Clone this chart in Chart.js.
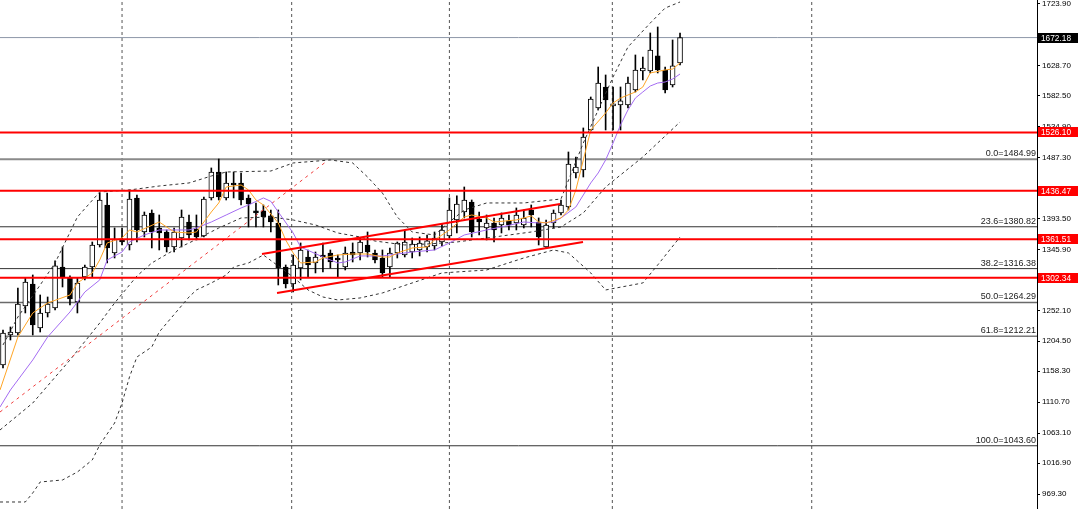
<!DOCTYPE html>
<html><head><meta charset="utf-8">
<script src="https://cdn.jsdelivr.net/npm/chart.js@4.4.0/dist/chart.umd.min.js"></script>
<style>html,body{margin:0;padding:0;background:#fff}#wrap{width:1080px;height:509px;position:relative}</style>
</head><body><div id="wrap"><canvas id="c"></canvas></div>
<script>
// ---- candle data (daily OHLC) ----
const opens = [1168.0,1214.2,1217.3,1258.9,1292.7,1225.0,1248.1,1255.8,1318.9,1302.0,1265.0,1303.5,1318.9,1352.8,1414.4,1340.5,1360.5,1352.8,1425.2,1372.8,1402.1,1379.0,1372.8,1349.7,1363.6,1388.2,1377.4,1366.7,1425.2,1465.2,1425.2,1448.3,1448.3,1425.2,1405.2,1405.2,1397.5,1386.7,1318.9,1292.7,1317.4,1334.3,1325.1,1337.4,1340.5,1332.8,1318.9,1342.0,1340.5,1352.8,1340.5,1332.8,1318.9,1340.5,1337.4,1342.0,1345.1,1349.7,1351.3,1357.4,1366.7,1391.3,1403.6,1419.0,1392.8,1379.0,1386.7,1383.6,1389.8,1386.7,1383.6,1406.7,1388.2,1349.7,1386.7,1402.1,1411.3,1463.7,1468.3,1529.9,1563.8,1596.1,1566.9,1568.4,1568.4,1591.5,1620.8,1620.8,1643.9,1622.3,1599.2,1633.1];
const highs = [1221.9,1226.5,1286.6,1302.0,1306.6,1275.8,1272.7,1328.2,1349.7,1305.1,1302.0,1322.0,1357.4,1432.9,1432.9,1379.0,1379.0,1437.5,1429.8,1403.6,1406.7,1399.0,1375.9,1379.0,1406.7,1399.0,1399.0,1426.7,1471.4,1485.2,1465.2,1465.2,1463.7,1429.8,1417.5,1414.4,1406.7,1406.7,1322.0,1337.4,1355.9,1345.1,1342.0,1355.9,1345.1,1337.4,1349.7,1355.9,1363.6,1372.8,1345.1,1345.1,1348.2,1357.4,1375.9,1363.6,1365.1,1368.2,1372.8,1385.1,1425.2,1428.3,1442.1,1422.1,1403.6,1399.0,1394.4,1402.1,1399.0,1409.8,1406.7,1414.4,1394.4,1391.3,1406.7,1422.1,1496.0,1488.3,1533.0,1580.7,1626.9,1614.6,1596.1,1596.1,1611.5,1645.4,1642.3,1679.3,1688.5,1626.9,1668.5,1679.3];
const lows = [1163.4,1206.5,1214.2,1248.1,1214.2,1218.8,1241.9,1252.7,1288.1,1260.4,1248.1,1298.9,1303.5,1349.7,1325.1,1332.8,1352.8,1345.1,1357.4,1365.1,1348.2,1345.1,1342.0,1342.0,1349.7,1360.5,1360.5,1365.1,1422.1,1422.1,1422.1,1425.2,1414.4,1380.5,1380.5,1380.5,1372.8,1291.2,1286.6,1280.4,1298.9,1303.5,1309.7,1311.2,1317.4,1303.5,1314.3,1326.6,1329.7,1334.3,1325.1,1303.5,1303.5,1332.8,1334.3,1332.8,1335.9,1342.0,1345.1,1351.3,1363.6,1371.3,1394.4,1365.1,1368.2,1360.5,1357.4,1371.3,1375.9,1375.9,1379.0,1380.5,1352.8,1348.2,1379.0,1399.0,1406.7,1456.0,1457.5,1528.4,1560.7,1529.9,1529.9,1529.9,1563.8,1588.4,1606.9,1617.7,1617.7,1586.9,1596.1,1630.0];
const closes = [1217.3,1218.8,1261.9,1295.8,1229.6,1248.1,1261.9,1320.5,1303.5,1269.6,1294.3,1318.9,1352.8,1422.1,1348.2,1362.0,1357.4,1423.6,1375.9,1399.0,1372.8,1371.3,1349.7,1372.8,1395.9,1368.2,1365.1,1423.6,1465.2,1426.7,1448.3,1445.2,1422.1,1415.9,1402.1,1395.9,1388.2,1317.4,1292.7,1322.0,1345.1,1322.0,1334.3,1334.3,1326.6,1329.7,1340.5,1337.4,1357.4,1342.0,1329.7,1309.7,1340.5,1355.9,1357.4,1354.3,1355.9,1359.0,1363.6,1375.9,1406.7,1415.9,1422.1,1372.8,1388.2,1386.7,1375.9,1394.4,1383.6,1399.0,1394.4,1399.0,1365.1,1383.6,1402.1,1414.4,1477.5,1472.9,1519.1,1577.6,1602.3,1576.1,1568.4,1574.6,1602.3,1622.3,1625.4,1653.1,1622.3,1591.5,1628.5,1672.2];

// ---- indicator lines (bar index, value) ----
const fastMaIdx = [-0.4,2,4,6,9,10,12,13,14,16,17,18,21,23,25,26,28,29,30,32,33,34,35,37,38,39,40,42,43,45,47,49,51,52,53,55,57,58,60,62,63,65,66,69,71,72,73,75,76,77,78,79,81,82,83,85,86,87,89,90,91];
const fastMaVal = [1129.5,1211.1,1248.1,1263.5,1275.8,1294.3,1309.7,1329.7,1355.9,1363.6,1375.9,1372.8,1388.2,1372.8,1371.3,1372.8,1403.6,1417.5,1442.1,1445.2,1437.5,1422.1,1414.4,1386.7,1360.5,1340.5,1325.1,1326.6,1332.8,1337.4,1338.9,1338.9,1334.3,1334.3,1340.5,1348.2,1349.7,1360.5,1375.9,1395.9,1399.0,1394.4,1388.2,1391.3,1397.5,1388.2,1386.7,1394.4,1406.7,1437.5,1483.7,1529.9,1556.1,1571.4,1579.1,1588.4,1596.1,1617.7,1622.3,1623.8,1633.1];
const slowMaIdx = [-0.4,1,4,6,9,11,13,14,16,17,19,21,23,25,26,28,30,32,33,35,36,37,39,40,43,45,46,48,51,52,55,58,60,62,65,67,70,72,74,75,77,78,79,80,81,82,83,84,85,86,87,88,89,90,91];
const slowMaVal = [1103.3,1129.5,1175.7,1211.1,1249.6,1280.4,1298.9,1329.7,1342.0,1357.4,1368.2,1375.9,1375.9,1375.9,1379.0,1388.2,1399.0,1409.8,1414.4,1425.2,1420.0,1403.6,1371.3,1349.7,1334.3,1325.1,1326.6,1335.9,1335.9,1337.4,1342.0,1345.1,1355.9,1368.2,1375.9,1380.5,1388.2,1386.7,1388.2,1394.4,1411.3,1429.8,1448.3,1463.7,1483.7,1509.8,1537.6,1560.7,1579.1,1588.4,1597.6,1602.2,1603.8,1608.4,1616.1];
const bbUpIdx = [0,2,5,7,10,13,17,21,25,28,30,36,39,44,47,49,51,53,55,58,60,62,65,70,75,78,80,82,84,87,89,91];
const bbUpVal = [1198.8,1241.9,1291.2,1325.1,1395.9,1434.4,1437.5,1443.6,1448.3,1459.0,1465.2,1466.7,1479.1,1483.7,1479.1,1457.5,1432.8,1395.9,1372.8,1368.2,1388.2,1406.7,1417.5,1417.5,1423.6,1509.8,1560.7,1611.5,1657.7,1694.6,1717.7,1727.0];
const bbMidIdx = [-0.4,4,9,13,15,18,20,23,25,29,32,36,39,42,45,48,50,54,57,61,64,67,71,75,78,81,86,91];
const bbMidVal = [1067.9,1109.4,1175.7,1232.6,1263.4,1305.0,1325.1,1345.1,1355.9,1378.9,1394.4,1395.9,1391.3,1383.6,1371.3,1365.1,1358.9,1352.8,1354.3,1357.4,1362.0,1366.6,1372.8,1380.5,1402.1,1442.1,1488.3,1542.2];
const bbLowIdx = [-0.4,3,4,5,8,10,12,13,15,16,17,18,20,21,25,26,28,30,31,33,35,39,41,43,45,48,51,55,59,65,70,74,76,79,81,86,88,91];
const bbLowVal = [957.0,957.0,970.9,987.8,990.9,1003.2,1021.7,1044.8,1078.6,1109.4,1149.5,1180.3,1195.7,1218.8,1272.7,1283.5,1294.3,1306.6,1318.9,1325.1,1337.4,1303.5,1283.5,1272.7,1268.1,1271.2,1278.9,1294.3,1309.7,1314.3,1332.8,1345.1,1340.5,1309.7,1283.5,1294.3,1322.0,1365.1];

// ---- drawn objects ----
const redLevels = [1526.10, 1436.47, 1361.51, 1302.34];
const currentPrice = 1672.18;
const fibPct = [0.0, 23.6, 38.2, 50.0, 61.8, 100.0];
const fibVal = [1484.99, 1380.82, 1316.38, 1264.29, 1212.21, 1043.60];
const channelUpIdx = [34.81, 74.87], channelUpVal = [1338.9, 1415.9];
const channelLowIdx = [36.83, 77.96], channelLowVal = [1278.9, 1357.4];
const fibTrendIdx = [-0.40, 43.55], fibTrendVal = [1095.6, 1482.1];
const periodSeps = [16.0, 38.8, 60.0, 81.9, 108.7];
const yTicks = [1723.90, 1628.70, 1582.50, 1534.90, 1487.30, 1393.50, 1345.90, 1298.70, 1252.10, 1204.50, 1158.30, 1110.70, 1063.10, 1016.90, 969.30];

const X_MIN = -0.403, X_MAX = 138.98, Y_MIN = 946.2, Y_MAX = 1730.06;
const FONT = 'Liberation Sans';

const pts = (ix, vs) => ix.map((x, k) => ({x, y: vs[k]}));
const idx = closes.map((_, i) => i);
const bull = idx.map(i => closes[i] >= opens[i]);

function lineDs(data, color, width, dash, order) {
  return {type: 'line', data, borderColor: color, borderWidth: width, borderDash: dash || [],
    pointRadius: 0, fill: false, tension: 0, spanGaps: true, order, clip: false};
}

const datasets = [];
periodSeps.forEach(g => datasets.push(lineDs([{x: g, y: Y_MIN}, {x: g, y: Y_MAX}], '#555', 1, [3, 3], 30)));
const fibColors = ['#8a8a8a', '#333', '#333', '#6a6a6a', '#7a7a7a', '#333'];
const fibWidths = [2, 1, 1, 1.5, 1.5, 1];
fibVal.forEach((v, k) => datasets.push(lineDs([{x: X_MIN, y: v}, {x: X_MAX, y: v}], fibColors[k], fibWidths[k], [], 29)));
datasets.push(lineDs([{x: X_MIN, y: currentPrice}, {x: X_MAX, y: currentPrice}], '#8d97a8', 1, [], 28));
datasets.push({type: 'bar', data: idx.map(i => ({x: i, y: [lows[i], highs[i]]})), backgroundColor: '#000',
  barThickness: 1, grouped: false, order: 21});
datasets.push({type: 'bar', data: idx.map(i => ({x: i, y: [opens[i], closes[i]]})),
  backgroundColor: idx.map(i => bull[i] ? '#ffffff' : '#000000'), borderColor: '#000', borderWidth: 1,
  borderSkipped: false, barThickness: 5, minBarLength: 2, grouped: false, order: 20});
datasets.push(lineDs(pts(bbUpIdx, bbUpVal), '#333', 1, [3, 3], 12));
datasets.push(lineDs(pts(bbMidIdx, bbMidVal), '#333', 1, [3, 3], 12));
datasets.push(lineDs(pts(bbLowIdx, bbLowVal), '#333', 1, [3, 3], 12));
datasets.push(lineDs(pts(fibTrendIdx, fibTrendVal), '#f03c3c', 1, [3, 4], 11));
datasets.push(lineDs(pts(slowMaIdx, slowMaVal), '#a46cf2', 1, [], 10));
datasets.push(lineDs(pts(fastMaIdx, fastMaVal), '#ffa526', 1, [], 9));
redLevels.forEach(v => datasets.push(lineDs([{x: X_MIN, y: v}, {x: X_MAX, y: v}], '#ff0000', 2, [], 5)));
datasets.push(lineDs(pts(channelUpIdx, channelUpVal), '#ff0000', 2, [], 4));
datasets.push(lineDs(pts(channelLowIdx, channelLowVal), '#ff0000', 2, [], 4));

const overlay = {
  id: 'overlay',
  afterDraw(chart) {
    const {ctx, chartArea, scales: {y}} = chart;
    ctx.save();
    ctx.font = '9px "' + FONT + '"';
    ctx.fillStyle = '#222';
    ctx.textAlign = 'right';
    ctx.textBaseline = 'bottom';
    fibVal.forEach((v, k) => {
      const py = y.getPixelForValue(v);
      ctx.fillText(fibPct[k].toFixed(1) + '=' + v.toFixed(2), chartArea.right - 1, py - 1);
    });
    ctx.font = '8.3px "' + FONT + '"';
    ctx.textAlign = 'left';
    ctx.textBaseline = 'middle';
    const box = (v, bg) => {
      const py = Math.round(y.getPixelForValue(v));
      ctx.fillStyle = bg;
      ctx.fillRect(chartArea.right + 1, py - 5, 40, 10);
      ctx.fillStyle = '#fff';
      ctx.fillText(v.toFixed(2), chartArea.right + 4, py + 0.5);
    };
    box(currentPrice, '#000');
    redLevels.forEach(v => box(v, '#ff0000'));
    ctx.restore();
  }
};

new Chart(document.getElementById('c'), {
  type: 'bar',
  data: {datasets},
  options: {
    responsive: true, maintainAspectRatio: false, animation: false, devicePixelRatio: 1,
    layout: {padding: 0},
    plugins: {legend: {display: false}, tooltip: {enabled: false}},
    scales: {
      x: {type: 'linear', display: false, min: X_MIN, max: X_MAX, offset: false},
      y: {
        type: 'linear', position: 'right', min: Y_MIN, max: Y_MAX,
        afterBuildTicks: s => { s.ticks = yTicks.map(v => ({value: v})); },
        afterFit: s => { s.width = 43; s.paddingTop = 0; s.paddingBottom = 0; },
        ticks: {autoSkip: false, padding: 2, color: '#000', font: {family: FONT, size: 8},
          callback: v => Number(v).toFixed(2)},
        grid: {display: true, drawOnChartArea: false, drawTicks: true, tickLength: 3, color: '#000'},
        border: {display: true, color: '#000', width: 1}
      }
    }
  },
  plugins: [overlay]
});
</script>
</body></html>
